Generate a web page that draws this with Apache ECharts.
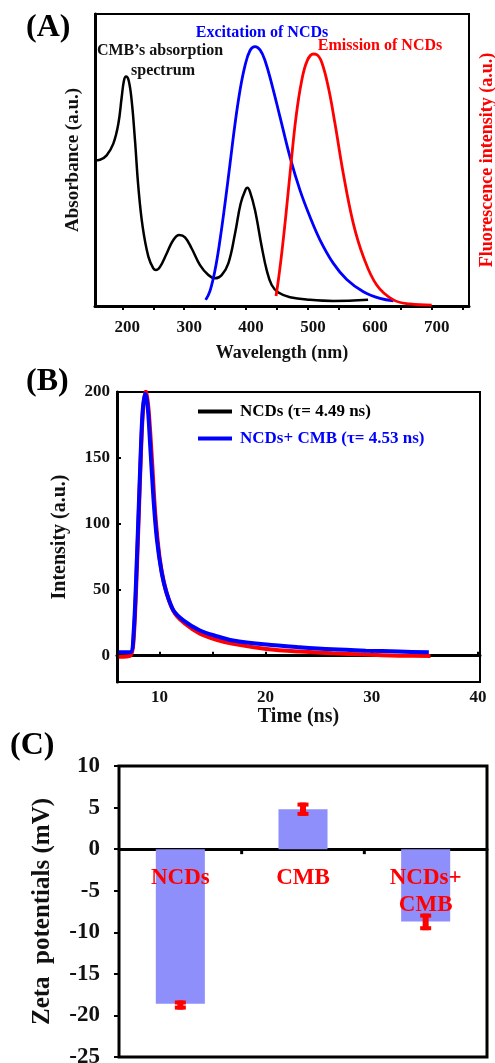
<!DOCTYPE html>
<html>
<head>
<meta charset="utf-8">
<script src="https://cdn.jsdelivr.net/npm/echarts/dist/echarts.min.js"></script>
<style>
html,body{margin:0;padding:0;background:#fff;}
#chart{width:495px;height:1063px;}
</style>
</head>
<body>
<div id="chart"></div>
<script>
// ---------- Panel A: spectra ----------
const absWavelength = [155.9,164.0,174.7,185.5,193.6,199.0,202.7,206.0,210.3,215.1,220.5,225.9,232.9,242.1,250.1,254.4,260.9,271.7,282.4,292.1,301.3,312.1,325.5,339.0,349.8,360.5,371.3,382.1,391.2,399.8,402.0,406.3,414.4,425.2,433.2,441.3,452.1,470.9,503.2,540.9,597.0];
const absValues = [49.9,50.1,51.6,55.6,62.4,71.5,77.2,78.6,77.2,70.4,56.7,40.8,27.1,16.9,12.9,12.3,13.4,18.0,22.6,24.3,23.5,19.7,14.0,10.6,9.5,10.6,14.6,24.8,35.1,40.2,40.5,39.1,32.8,20.3,12.3,7.2,4.6,3.0,2.1,1.7,2.1];
const excWavelength = [334.7,341.7,349.8,357.8,365.9,374.0,382.1,390.1,398.2,406.3,414.4,422.5,430.5,441.3,454.8,470.9,487.1,503.2,519.4,540.9,562.5,589.4,616.3,637.9];
const excValues = [2.1,5.2,12.3,22.6,35.1,48.7,62.4,73.8,82.3,87.5,88.8,87.7,84.1,76.1,64.7,51.0,39.6,30.5,22.6,14.6,9.1,4.9,2.6,1.8];
const emiWavelength = [448.3,452.1,457.5,464.5,472.0,480.6,489.8,498.9,508.6,514.0,522.1,532.8,543.6,557.0,573.2,589.4,610.9,637.9,664.8,699.8];
const emiValues = [3.4,8.9,18.0,31.7,47.6,64.7,77.2,84.1,86.3,86.1,83.5,74.9,62.4,45.3,28.2,16.9,7.2,2.1,0.7,0.3];
const wlTicks = [200,250,300,350,400,450,500,550,600,650,700,750];
const wlLabels = [200,300,400,500,600,700];

// ---------- Panel B: decay ----------
const timeNCDs = [6.16,7.25,7.56,7.88,8.19,8.44,8.72,8.97,9.29,9.6,10.0,10.38,10.84,11.47,12.41,13.82,15.38,16.94,20.07,23.19,26.28,29.44,32.57,35.54];
const decayNCDs = [-0.8,0,11.5,67.5,138.9,184.7,201,187,149,108,75,57,43.3,31.8,24.2,16.6,12.0,8.9,5.1,3.1,1.8,0.8,0,-0.3];
const timeMix = [6.16,7.25,7.56,7.88,8.19,8.41,8.66,8.88,9.13,9.44,9.76,10.22,10.69,11.31,12.25,13.82,15.38,16.94,20.07,23.19,26.28,29.44,32.57,35.38];
const decayMix = [2.5,2.5,16.6,75,144,184.7,198.7,190,159,118.5,88,62.4,47.1,34.4,26.8,19.1,14.8,11.5,8.4,6.4,4.8,3.8,3.1,2.5];
const timeTicks = [10,15,20,25,30,35,40];
const timeLabels = [10,20,30,40];
const intensityTicks = [0,50,100,150,200];
const legendNames = ['NCDs (τ= 4.49 ns)', 'NCDs+ CMB (τ= 4.53 ns)'];

// ---------- Panel C: zeta ----------
const zetaCategories = ['NCDs', 'CMB', 'NCDs+\nCMB'];
const zetaValues = [-18.6, 4.8, -8.7];
const zetaErrLow = [-19.3, 4.0, -9.75];
const zetaErrHigh = [-18.2, 5.6, -7.75];

const FONT = '"Liberation Serif","Times New Roman",serif';
const zip = (a, b) => a.map((v, i) => [v, b[i]]);
const txt = (size, color) => ({fontFamily: FONT, fontWeight: 'bold', fontSize: size, color: color || '#000'});

const chart = echarts.init(document.getElementById('chart'), null, {renderer: 'canvas'});
chart.setOption({
  animation: false,
  backgroundColor: '#fff',
  grid: [
    {left: 95, top: 14, width: 374, height: 292, show: true, borderColor: '#000', borderWidth: 2, outerBoundsMode: 'none', containLabel: false},
    {left: 117, top: 392, width: 363, height: 290, show: true, borderColor: '#000', borderWidth: 2, outerBoundsMode: 'none', containLabel: false},
    {left: 119, top: 766, width: 368, height: 291, show: true, borderColor: '#000', borderWidth: 3, outerBoundsMode: 'none', containLabel: false}
  ],
  xAxis: [
    {gridIndex: 0, type: 'value', min: 155.9, max: 760,
     axisLine: {lineStyle: {color: '#000', width: 3}},
     axisTick: {customValues: wlTicks, length: 4, lineStyle: {color: '#000', width: 2}},
     axisLabel: Object.assign({customValues: wlLabels, margin: 13, padding: [0, 0, 0, 10]}, txt(17, '#111')),
     splitLine: {show: false},
     name: 'Wavelength (nm)', nameLocation: 'middle', nameGap: 38, nameTextStyle: txt(18, '#111')},
    {gridIndex: 1, type: 'value', min: 6, max: 40.2,
     axisLine: {lineStyle: {color: '#000', width: 3}},
     axisTick: {customValues: timeTicks, inside: true, length: 4, lineStyle: {color: '#000', width: 2}},
     axisLabel: Object.assign({customValues: timeLabels, margin: 7}, txt(17, '#111')),
     splitLine: {show: false},
     name: 'Time (ns)', nameLocation: 'middle', nameGap: 24, nameTextStyle: txt(20, '#111')},
    {gridIndex: 2, type: 'category', data: zetaCategories,
     axisLine: {onZero: true, lineStyle: {color: '#000', width: 3}},
     axisTick: {show: false},
     axisLabel: {show: false},
     splitLine: {show: false}}
  ],
  yAxis: [
    {gridIndex: 0, type: 'value', min: 0, max: 100,
     axisLine: {show: true, lineStyle: {color: '#000', width: 3}},
     axisTick: {show: false}, axisLabel: {show: false}, splitLine: {show: false},
     name: 'Absorbance (a.u.)', nameLocation: 'middle', nameGap: 12, nameTextStyle: txt(19, '#111')},
    {gridIndex: 0, type: 'value', min: 0, max: 100, position: 'right',
     axisLine: {show: false}, axisTick: {show: false}, axisLabel: {show: false}, splitLine: {show: false},
     name: 'Fluorescence intensity (a.u.)', nameLocation: 'middle', nameGap: 9, nameRotate: 90,
     nameTextStyle: txt(18, '#ff0000')},
    {gridIndex: 1, type: 'value', min: -20, max: 200,
     axisLine: {show: true, lineStyle: {color: '#000', width: 3}},
     axisTick: {show: true, customValues: intensityTicks, inside: true, length: 4, lineStyle: {color: '#000', width: 2}},
     axisLabel: Object.assign({customValues: intensityTicks, margin: 7}, txt(17, '#111')),
     splitLine: {show: false},
     name: 'Intensity (a.u.)', nameLocation: 'middle', nameGap: 47, nameTextStyle: txt(20, '#111')},
    {gridIndex: 2, type: 'value', min: -25, max: 10, interval: 5,
     axisLine: {show: true, onZero: false, lineStyle: {color: '#000', width: 2}},
     axisTick: {show: true, length: 5, lineStyle: {color: '#000', width: 2}},
     axisLabel: Object.assign({margin: 19}, txt(23, '#111')),
     splitLine: {show: false},
     name: 'Zeta  potentials (mV)', nameLocation: 'middle', nameGap: 64, nameTextStyle: txt(25, '#111')}
  ],
  legend: {
    orient: 'vertical', left: 193, top: 398, itemWidth: 34, itemHeight: 4, itemGap: 10, icon: 'rect',
    textStyle: Object.assign({padding: [0, 0, 0, 3]}, txt(17)),
    data: [
      {name: legendNames[0], itemStyle: {color: '#000'}, textStyle: {color: '#000'}},
      {name: legendNames[1], itemStyle: {color: '#0000ff'}, textStyle: {color: '#0000ff'}}
    ]
  },
  graphic: [
    {type: 'text', left: 26, top: 12, style: {text: '(A)', font: 'bold 32px ' + FONT, fill: '#000'}},
    {type: 'text', left: 26, top: 366, style: {text: '(B)', font: 'bold 32px ' + FONT, fill: '#000'}},
    {type: 'text', left: 10, top: 730, style: {text: '(C)', font: 'bold 32px ' + FONT, fill: '#000'}},
    {type: 'text', x: 160, y: 51, style: {text: 'CMB’s absorption', font: 'bold 16px ' + FONT, fill: '#111', align: 'center', verticalAlign: 'middle'}},
    {type: 'text', x: 163, y: 71, style: {text: 'spectrum', font: 'bold 16px ' + FONT, fill: '#111', align: 'center', verticalAlign: 'middle'}},
    {type: 'text', x: 262, y: 33, style: {text: 'Excitation of NCDs', font: 'bold 16px ' + FONT, fill: '#0000ff', align: 'center', verticalAlign: 'middle'}},
    {type: 'text', x: 380, y: 46, style: {text: 'Emission of NCDs', font: 'bold 16px ' + FONT, fill: '#ff0000', align: 'center', verticalAlign: 'middle'}}
  ],
  series: [
    {type: 'line', xAxisIndex: 0, yAxisIndex: 0, data: zip(absWavelength, absValues), showSymbol: false, smooth: 0.4,
     lineStyle: {color: '#000', width: 2.5}, itemStyle: {color: '#000'}},
    {type: 'line', xAxisIndex: 0, yAxisIndex: 1, data: zip(excWavelength, excValues), showSymbol: false, smooth: 0.4,
     lineStyle: {color: '#0000ff', width: 2.8}, itemStyle: {color: '#0000ff'}},
    {type: 'line', xAxisIndex: 0, yAxisIndex: 1, data: zip(emiWavelength, emiValues), showSymbol: false, smooth: 0.4,
     lineStyle: {color: '#ff0000', width: 2.8}, itemStyle: {color: '#ff0000'}},
    {name: legendNames[0], type: 'line', xAxisIndex: 1, yAxisIndex: 2, data: zip(timeNCDs, decayNCDs), showSymbol: false, smooth: 0.3,
     lineStyle: {color: '#ff0000', width: 4}, itemStyle: {color: '#ff0000'}},
    {name: legendNames[1], type: 'line', xAxisIndex: 1, yAxisIndex: 2, data: zip(timeMix, decayMix), showSymbol: false, smooth: 0.3,
     lineStyle: {color: '#0000ff', width: 4}, itemStyle: {color: '#0000ff'}},
    {type: 'bar', xAxisIndex: 2, yAxisIndex: 3, data: zetaValues, barWidth: '40%', itemStyle: {color: '#8f8ffb'}},
    // category labels and boundary ticks at the zero line
    {type: 'custom', xAxisIndex: 2, yAxisIndex: 3, z: 6, silent: true,
     data: zetaCategories.map((c, i) => [i, 0]),
     renderItem: function (params, api) {
       const i = api.value(0);
       const p = api.coord([i, 0]);
       const band = api.size([1, 0])[0];
       const children = [{
         type: 'text', x: p[0], y: p[1] + 15,
         style: {text: zetaCategories[i], font: 'bold 23px ' + FONT, fill: '#ff0000', align: 'center', verticalAlign: 'top', lineHeight: 27}
       }];
       if (i < zetaCategories.length - 1) {
         children.push({type: 'rect', shape: {x: p[0] + band / 2 - 1.5, y: p[1], width: 3, height: 5}, style: {fill: '#000'}});
       }
       return {type: 'group', children: children};
     }},
    {type: 'custom', xAxisIndex: 2, yAxisIndex: 3, z: 5,
     data: zetaCategories.map((c, i) => [i, zetaErrLow[i], zetaErrHigh[i]]),
     renderItem: function (params, api) {
       const lo = api.coord([api.value(0), api.value(1)]);
       const hi = api.coord([api.value(0), api.value(2)]);
       const x = lo[0];
       const st = {fill: '#ff0000'};
       return {type: 'group', children: [
         {type: 'rect', shape: {x: x - 3, y: hi[1], width: 6, height: lo[1] - hi[1]}, style: st},
         {type: 'rect', shape: {x: x - 5.5, y: hi[1], width: 11, height: 4}, style: st},
         {type: 'rect', shape: {x: x - 5.5, y: lo[1] - 4, width: 11, height: 4}, style: st}
       ]};
     }}
  ]
});
</script>
</body>
</html>
